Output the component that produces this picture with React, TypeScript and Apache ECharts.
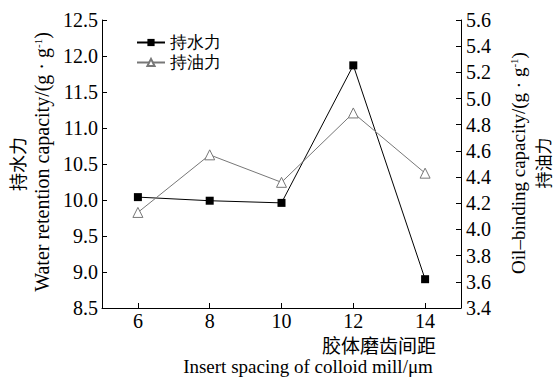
import React, { useEffect, useRef } from "react";
import * as echarts from "echarts";

const spacing = [6, 8, 10, 12, 14];
const waterRetention = [10.04, 9.99, 9.96, 11.87, 8.9];
const oilBinding = [4.13, 4.57, 4.36, 4.89, 4.43];
const xTicks = [6, 8, 10, 12, 14];
const seriesNames = ["持水力", "持油力"];

const SERIF = "Liberation Serif, DejaVu Serif, serif";
const CJK = "Noto Sans CJK SC";

export default function App() {
  const ref = useRef<HTMLDivElement>(null);
  useEffect(() => {
    if (!ref.current) return;
    const chart = echarts.init(ref.current, undefined, { renderer: "svg" });
    const sup = { fontSize: 11, verticalAlign: "top", lineHeight: 11, fontFamily: SERIF, color: "#000" } as any;
    chart.setOption({
      animation: false,
      backgroundColor: "#fff",
      grid: { left: 102, right: 93, top: 20, bottom: 69 },
      legend: {
        orient: "vertical",
        left: 136,
        top: 34,
        padding: 0,
        itemWidth: 28,
        itemHeight: 9,
        itemGap: 3,
        textStyle: { fontSize: 17, lineHeight: 17, color: "#000", fontFamily: SERIF },
        data: seriesNames,
      },
      xAxis: {
        type: "value",
        min: 5,
        max: 15,
        axisLine: { show: true, lineStyle: { color: "#000", width: 1 } },
        axisTick: { show: true, inside: true, length: 5, customValues: xTicks, lineStyle: { color: "#000" } },
        axisLabel: { customValues: xTicks, fontSize: 20, color: "#000", fontFamily: SERIF, margin: 3 },
        splitLine: { show: false },
      },
      yAxis: [
        {
          type: "value",
          min: 8.5,
          max: 12.5,
          interval: 0.5,
          position: "left",
          axisLine: { show: true, lineStyle: { color: "#000", width: 1 } },
          axisTick: { show: true, inside: true, length: 5, lineStyle: { color: "#000" } },
          axisLabel: { fontSize: 20, color: "#000", fontFamily: SERIF, margin: 4, formatter: (v: number) => v.toFixed(1) },
          splitLine: { show: false },
        },
        {
          type: "value",
          min: 3.4,
          max: 5.6,
          interval: 0.2,
          position: "right",
          axisLine: { show: true, lineStyle: { color: "#000", width: 1 } },
          axisTick: { show: true, inside: true, length: 5, lineStyle: { color: "#000" } },
          axisLabel: { fontSize: 20, color: "#000", fontFamily: SERIF, margin: 5, formatter: (v: number) => v.toFixed(1) },
          splitLine: { show: false },
        },
      ],
      series: [
        {
          name: seriesNames[0],
          type: "line",
          yAxisIndex: 0,
          data: spacing.map((x, i) => [x, waterRetention[i]]),
          symbol: "rect",
          symbolSize: 8,
          itemStyle: { color: "#000" },
          lineStyle: { color: "#000", width: 1 },
        },
        {
          name: seriesNames[1],
          type: "line",
          yAxisIndex: 1,
          data: spacing.map((x, i) => [x, oilBinding[i]]),
          symbol: "triangle",
          symbolSize: 10,
          itemStyle: { color: "#fff", borderColor: "#777", borderWidth: 1 },
          lineStyle: { color: "#777", width: 1 },
        },
      ],
      graphic: [
        {
          type: "text",
          x: 17,
          y: 164,
          rotation: Math.PI / 2,
          style: { text: "持水力", fontSize: 18, fontFamily: CJK, fill: "#000", align: "center", verticalAlign: "middle" },
        },
        {
          type: "text",
          x: 42,
          y: 162,
          rotation: Math.PI / 2,
          style: {
            text: "{a|Water retention capacity/(g · g}{s|-1}{a|)}",
            align: "center",
            verticalAlign: "middle",
            rich: { a: { fontSize: 20, fontFamily: SERIF, color: "#000" }, s: sup },
          },
        },
        {
          type: "text",
          x: 518,
          y: 163,
          rotation: Math.PI / 2,
          style: {
            text: "{a|Oil–binding capacity/(g · g}{s|-1}{a|)}",
            align: "center",
            verticalAlign: "middle",
            rich: { a: { fontSize: 19, fontFamily: SERIF, color: "#000" }, s: sup },
          },
        },
        {
          type: "text",
          x: 542,
          y: 163,
          rotation: Math.PI / 2,
          style: { text: "持油力", fontSize: 17, fontFamily: CJK, fill: "#000", align: "center", verticalAlign: "middle" },
        },
        {
          type: "text",
          x: 379,
          y: 344,
          style: { text: "胶体磨齿间距", fontSize: 19, fontFamily: CJK, fill: "#000", align: "center", verticalAlign: "middle" },
        },
        {
          type: "text",
          x: 308,
          y: 366,
          style: { text: "Insert spacing of colloid mill/μm", fontSize: 19, fontFamily: SERIF, fill: "#000", align: "center", verticalAlign: "middle" },
        },
      ],
    });
    return () => chart.dispose();
  }, []);
  return <div ref={ref} style={{ width: 554, height: 377, position: "absolute", left: 0, top: 0 }} />;
}
